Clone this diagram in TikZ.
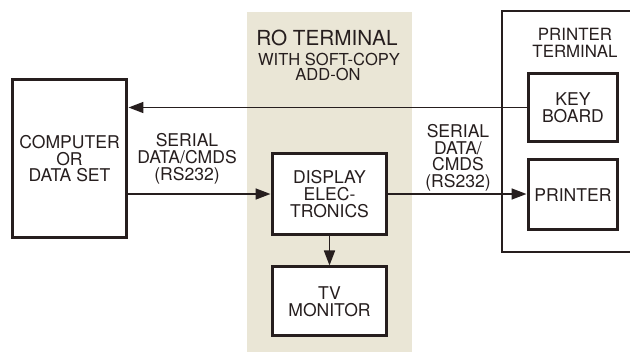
\documentclass[tikz,border=0pt]{standalone}
\usepackage{fontspec}
\setmainfont{TeX Gyre Heros}
\usetikzlibrary{positioning,arrows.meta}
\definecolor{ink}{RGB}{38,30,30}
\definecolor{paper}{RGB}{234,230,214}
\begin{document}
\begin{tikzpicture}[x=0.02cm,y=-0.02cm]
%define
\tikzstyle{box} = [rectangle, minimum width=2.3cm, text centered, align=center, draw=ink, line width=0.06cm, fill=white, text=ink, text depth=0pt, font=\fontsize{10}{9.6}\selectfont]
\tikzstyle{box1} = [box, minimum width=1.8cm, minimum height=1.38cm]
\tikzstyle{txt} = [align=center, text=ink, text depth=0pt, font=\fontsize{10}{9.6}\selectfont]
\tikzstyle{arrow} = [-{Triangle[length=0.3cm,width=0.22cm]}, draw=ink, line width=0.035cm]

\useasboundingbox (0,0) rectangle (630,352);
%shade
\fill[paper](247,12)rectangle(412,352);
%printer terminal
\draw[ink, line width=0.025cm](630,11)--(502,11)--(502,252)--(630,252);

\node[box, minimum height=3.18cm](comp) at (69.5,158.5){COMPUTER\\OR\\DATA SET};
\node[box, minimum height=1.64cm](disp) at (329.5,194){DISPLAY\\ELEC-\\TRONICS};
\node[box, minimum height=1.38cm, below=0.58cm of disp](tv){TV\\MONITOR};
\node[box1](key) at (573,107.5){KEY\\BOARD};
\node[box1, minimum height=1.4cm, below=0.3cm of key](prn){PRINTER};

%text
\node[txt, anchor=base](ro) at (327,45){\fontsize{11.8}{12}\selectfont RO TERMINAL};
\node[txt, anchor=base](soft) at (329,65){\fontsize{9.4}{9}\selectfont WITH SOFT-COPY};
\node[txt, anchor=base](addon) at (328,80){\fontsize{9.4}{9}\selectfont ADD-ON};
\node[txt, font=\fontsize{9.6}{9.4}\selectfont](pt) at (575,43){PRINTER\\TERMINAL};
\node[txt](serin) at (187,157){SERIAL\\DATA/CMDS\\(RS232)};
\node[txt](serout) at (458,156){SERIAL\\DATA/\\CMDS\\(RS232)};

%line
\draw[arrow](key.west)--(key.west -| comp.east);
\draw[arrow](comp.east |- disp.west)--(disp.west);
\draw[arrow](disp.east)--(disp.east -| prn.west);
\draw[arrow](disp.south)--(tv.north);

\end{tikzpicture}
\end{document}
